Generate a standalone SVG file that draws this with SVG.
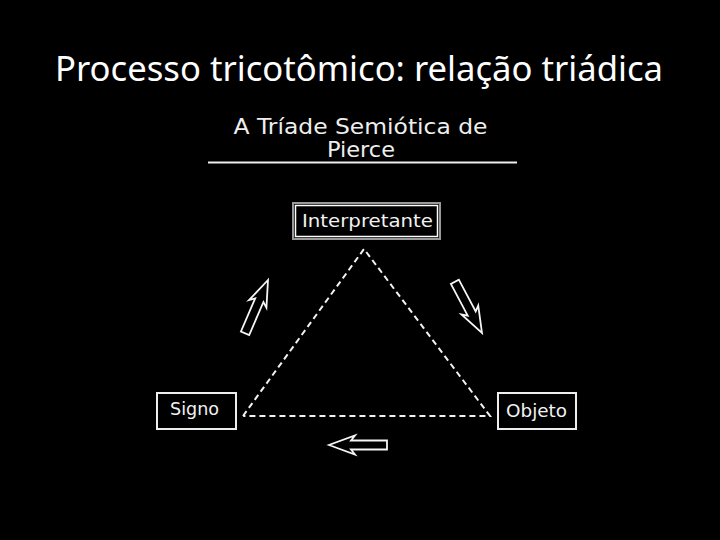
<svg xmlns="http://www.w3.org/2000/svg" width="720" height="540" viewBox="0 0 720 540">
<style>
.title{font-family:"Noto Sans","Open Sans",sans-serif;font-size:34.5px;fill:#fff;text-anchor:middle}
.sub{font-family:"DejaVu Sans",Verdana,sans-serif;font-size:21px;fill:#eee;text-anchor:middle}
.lbl{font-family:"DejaVu Sans",Verdana,sans-serif;font-size:18px;fill:#f2f2f2;text-anchor:middle}
.box{fill:#000;stroke:#eee;stroke-width:2}
.dash{fill:none;stroke:#f2f2f2;stroke-width:2;stroke-dasharray:6 4}
.arrow{fill:#000;stroke:#f5f5f5;stroke-width:1.8;stroke-linejoin:miter}
</style>
<defs>
<polygon id="harrow" points="0,0 -26,-9.5 -22,-4.5 -58,-4.5 -58,4.5 -22,4.5 -26,9.5"/>
</defs>
<rect width="720" height="540" fill="#000"/>
<text class="title" x="359" y="81" textLength="608" lengthAdjust="spacingAndGlyphs">Processo tricotômico: relação triádica</text>
<g id="heading">
<text class="sub" x="360.5" y="134" textLength="254" lengthAdjust="spacingAndGlyphs">A Tríade Semiótica de</text>
<text class="sub" x="361" y="157" textLength="68" lengthAdjust="spacingAndGlyphs">Pierce</text>
<line x1="208" y1="162.5" x2="517" y2="162.5" stroke="#eee" stroke-width="2"/>
</g>
<g id="connectors">
<polyline class="dash" points="243,416 364,249 490,416 243,416"/>
<use href="#harrow" class="arrow" transform="translate(268,280) rotate(-66.7)"/>
<use href="#harrow" class="arrow" transform="translate(482,333) rotate(62.1)"/>
<use href="#harrow" class="arrow" transform="translate(329,445) rotate(180)"/>
</g>
<g id="interpretante">
<rect x="293" y="203" width="147" height="36" fill="#000" stroke="#999" stroke-width="2"/>
<rect x="295.5" y="205.5" width="142" height="31" fill="none" stroke="#fff" stroke-width="1.5"/>
<text class="lbl" x="367.5" y="227" textLength="131" lengthAdjust="spacingAndGlyphs">Interpretante</text>
</g>
<g id="signo">
<rect class="box" x="157" y="393" width="79" height="36"/>
<text class="lbl" x="194.5" y="415" textLength="49" lengthAdjust="spacingAndGlyphs">Signo</text>
</g>
<g id="objeto">
<rect class="box" x="498" y="393" width="78" height="36"/>
<text class="lbl" x="536.5" y="417" textLength="61" lengthAdjust="spacingAndGlyphs">Objeto</text>
</g>
</svg>
